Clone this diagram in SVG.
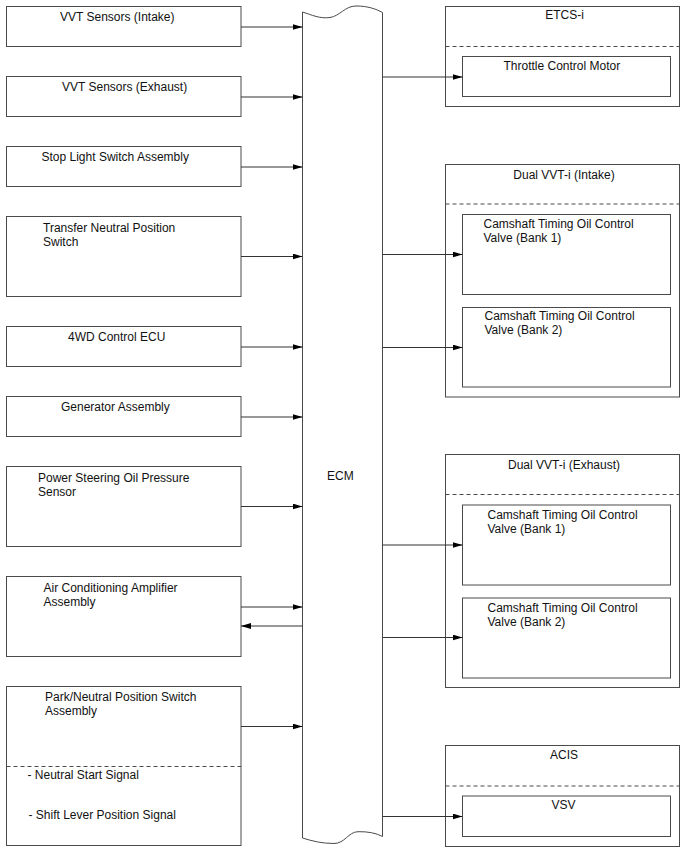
<svg xmlns="http://www.w3.org/2000/svg" width="688" height="852" viewBox="0 0 688 852">
<defs>
<marker id="arr" markerWidth="10" markerHeight="6" refX="10" refY="3" orient="auto" markerUnits="userSpaceOnUse">
<path d="M0,0 L10,3 L0,6 Z" fill="#000"/>
</marker>
<style>
.box{fill:#fff;stroke:#4a4a4a;stroke-width:1}
.dash{fill:none;stroke:#4a4a4a;stroke-width:1;stroke-dasharray:4,3}
.t{font-family:"Liberation Sans",Arial,sans-serif;font-size:12px;fill:#111}
.c{stroke:#333;stroke-width:1;fill:none;marker-end:url(#arr)}
</style>
</defs>
<rect width="688" height="852" fill="#fff"/>

<g id="ecm">
<path class="box" d="M302.5,12 C312,15 320,19 330,17.5 C340,16 345,6 356,6 C368,6 376,9 382.5,12.5 L382.5,836.5 C376,833 368,831.5 358,831.7 C348,832 345,843.5 334,843.5 C322,843.5 312,841 302.5,838 Z"/>
<text class="t" x="327" y="480">ECM</text>
</g>

<g id="vvt-intake-sensors">
<rect class="box" x="6.5" y="6.5" width="234.5" height="40"/>
<text class="t" x="60" y="20.5">VVT Sensors (Intake)</text>
</g>
<g id="vvt-exhaust-sensors">
<rect class="box" x="6.5" y="76.5" width="234.5" height="40"/>
<text class="t" x="62" y="90.5">VVT Sensors (Exhaust)</text>
</g>
<g id="stop-light">
<rect class="box" x="6.5" y="146.5" width="234.5" height="40"/>
<text class="t" x="41.5" y="160.5">Stop Light Switch Assembly</text>
</g>
<g id="transfer">
<rect class="box" x="6.5" y="216.5" width="234.5" height="80"/>
<text class="t" x="43" y="231.5">Transfer Neutral Position</text>
<text class="t" x="43" y="245.5">Switch</text>
</g>
<g id="fourwd">
<rect class="box" x="6.5" y="326.5" width="234.5" height="40"/>
<text class="t" x="68" y="340.5">4WD Control ECU</text>
</g>
<g id="generator">
<rect class="box" x="6.5" y="396.5" width="234.5" height="40"/>
<text class="t" x="61" y="410.5">Generator Assembly</text>
</g>
<g id="power-steering">
<rect class="box" x="6.5" y="466.5" width="234.5" height="80"/>
<text class="t" x="38" y="481.5">Power Steering Oil Pressure</text>
<text class="t" x="38" y="495.5">Sensor</text>
</g>
<g id="ac-amp">
<rect class="box" x="6.5" y="576.5" width="234.5" height="80"/>
<text class="t" x="43.5" y="591.5">Air Conditioning Amplifier</text>
<text class="t" x="43.5" y="605.5">Assembly</text>
</g>
<g id="park-neutral">
<rect class="box" x="6.5" y="686.5" width="234.5" height="159"/>
<line class="dash" x1="6.5" y1="766.5" x2="241" y2="766.5"/>
<text class="t" x="45" y="700.5">Park/Neutral Position Switch</text>
<text class="t" x="45" y="714.5">Assembly</text>
<text class="t" x="27.5" y="779">- Neutral Start Signal</text>
<text class="t" x="28.5" y="819">- Shift Lever Position Signal</text>
</g>

<g id="etcs">
<rect class="box" x="445.5" y="6.5" width="234" height="100"/>
<line class="dash" x1="445.5" y1="46.5" x2="679.5" y2="46.5"/>
<text class="t" x="564.5" y="19" text-anchor="middle">ETCS-i</text>
<g id="throttle-motor">
<rect class="box" x="462.5" y="56.5" width="208" height="40"/>
<text class="t" x="503.5" y="69.5">Throttle Control Motor</text>
</g>
</g>

<g id="dual-vvt-intake">
<rect class="box" x="445.5" y="164.5" width="234" height="232.5"/>
<line class="dash" x1="445.5" y1="204" x2="679.5" y2="204"/>
<text class="t" x="564" y="178.5" text-anchor="middle">Dual VVT-i (Intake)</text>
<g id="ocv-intake-b1">
<rect class="box" x="462.5" y="214.5" width="208" height="80"/>
<text class="t" x="483.5" y="228">Camshaft Timing Oil Control</text>
<text class="t" x="483.5" y="242">Valve (Bank 1)</text>
</g>
<g id="ocv-intake-b2">
<rect class="box" x="462.5" y="307.5" width="208" height="79.5"/>
<text class="t" x="484.5" y="320">Camshaft Timing Oil Control</text>
<text class="t" x="484.5" y="334">Valve (Bank 2)</text>
</g>
</g>

<g id="dual-vvt-exhaust">
<rect class="box" x="445.5" y="454.5" width="234" height="233"/>
<line class="dash" x1="445.5" y1="494.5" x2="679.5" y2="494.5"/>
<text class="t" x="564" y="468.5" text-anchor="middle">Dual VVT-i (Exhaust)</text>
<g id="ocv-exhaust-b1">
<rect class="box" x="462.5" y="505" width="208" height="80"/>
<text class="t" x="487.5" y="518.5">Camshaft Timing Oil Control</text>
<text class="t" x="487.5" y="532.5">Valve (Bank 1)</text>
</g>
<g id="ocv-exhaust-b2">
<rect class="box" x="462.5" y="598" width="208" height="80"/>
<text class="t" x="487.5" y="611.5">Camshaft Timing Oil Control</text>
<text class="t" x="487.5" y="625.5">Valve (Bank 2)</text>
</g>
</g>

<g id="acis">
<rect class="box" x="445.5" y="745.5" width="234" height="101"/>
<line class="dash" x1="445.5" y1="786" x2="679.5" y2="786"/>
<text class="t" x="564" y="758.5" text-anchor="middle">ACIS</text>
<g id="vsv">
<rect class="box" x="462.5" y="796" width="208" height="40.5"/>
<text class="t" x="551.5" y="809">VSV</text>
</g>
</g>

<g id="connectors">
<line class="c" x1="241" y1="27" x2="302.5" y2="27"/>
<line class="c" x1="241" y1="97" x2="302.5" y2="97"/>
<line class="c" x1="241" y1="167" x2="302.5" y2="167"/>
<line class="c" x1="241" y1="256.5" x2="302.5" y2="256.5"/>
<line class="c" x1="241" y1="347" x2="302.5" y2="347"/>
<line class="c" x1="241" y1="417" x2="302.5" y2="417"/>
<line class="c" x1="241" y1="506.5" x2="302.5" y2="506.5"/>
<line class="c" x1="241" y1="607" x2="302.5" y2="607"/>
<line class="c" x1="302.5" y1="626" x2="241" y2="626"/>
<line class="c" x1="241" y1="726.5" x2="302.5" y2="726.5"/>
<line class="c" x1="382.5" y1="77" x2="462.5" y2="77"/>
<line class="c" x1="382.5" y1="254.5" x2="462.5" y2="254.5"/>
<line class="c" x1="382.5" y1="347.5" x2="462.5" y2="347.5"/>
<line class="c" x1="382.5" y1="545" x2="462.5" y2="545"/>
<line class="c" x1="382.5" y1="637.5" x2="462.5" y2="637.5"/>
<line class="c" x1="382.5" y1="816.5" x2="462.5" y2="816.5"/>
</g>
</svg>
